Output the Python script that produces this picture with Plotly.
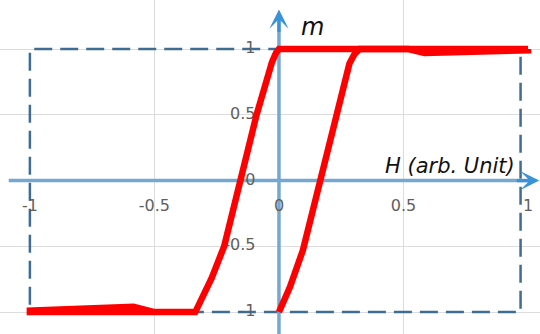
import plotly.graph_objects as go

# Hysteresis loop (H, m); None separates the two drawn pieces
H_loop = [1.0, 0.5, 0.0, -0.012, -0.028, -0.09, -0.152, -0.22, -0.27, -0.316, -0.336,
          -0.5, -0.584, -1.0, -1.0, -0.584, -0.5, -0.34, None,
          0.0, 0.044, 0.096, 0.164, 0.228, 0.255, 0.283, 0.303, 0.324,
          0.52, 0.584, 1.0, 1.0]
m_loop = [1.0, 1.0, 1.0, 0.97, 0.9, 0.5, 0.0, -0.5, -0.74, -0.93, -1.0,
          -1.0, -1.0, -1.0, -0.99, -0.96, -1.0, -1.0, None,
          -1.0, -0.81, -0.53, 0.0, 0.5, 0.72, 0.89, 0.96, 1.0,
          1.0, 0.97, 0.99, 1.0]

x_tick_vals = [-1, -0.5, 0, 0.5, 1]
x_tick_text = ["-1", "-0.5", "0", "0.5", "1"]
y_tick_vals = [1, 0.5, 0, -0.5, -1]
y_tick_text = ["1", "0.5", "0", "-0.5", "-1"]

XR = [-1.12, 1.048]
YR = [-1.167, 1.373]
AX_COL = "#76a7d0"
HEAD_COL = "#3a93d6"
TICK_FONT = dict(family="DejaVu Sans", size=16, color="#5f5f5f")

fig = go.Figure()

# tick labels (drawn below the curve)
fig.add_trace(go.Scatter(
    x=x_tick_vals, y=[-0.2] * len(x_tick_vals), text=x_tick_text,
    mode="text", textposition="middle center", textfont=TICK_FONT,
    hoverinfo="skip", showlegend=False))
fig.add_trace(go.Scatter(
    x=[-0.094] * len(y_tick_vals), y=y_tick_vals, text=y_tick_text,
    mode="text", textposition="middle left", textfont=TICK_FONT,
    hoverinfo="skip", showlegend=False))

# the loop
fig.add_trace(go.Scatter(
    x=H_loop, y=m_loop, mode="lines", connectgaps=False,
    line=dict(color="#ff0000", width=6.5),
    hoverinfo="skip", showlegend=False))

shapes = [
    # dashed frame
    dict(type="rect", x0=-1, x1=0.97, y0=-1, y1=1, xref="x", yref="y",
         line=dict(color="#3f6d92", width=2.5, dash="18px,8px"), layer="between"),
    # axis shafts
    dict(type="line", x0=-1.085, x1=1.0, y0=0, y1=0, xref="x", yref="y",
         line=dict(color=AX_COL, width=3.5), layer="between"),
    dict(type="line", x0=0, x1=0, y0=YR[0], y1=1.22, xref="x", yref="y",
         line=dict(color=AX_COL, width=3.5), layer="between"),
]

annotations = [
    dict(x=1.045, y=0, xref="x", yref="y", ax=-24, ay=0, showarrow=True,
         arrowhead=3, arrowsize=1.0, arrowwidth=3.2, arrowcolor=HEAD_COL, text=""),
    dict(x=0, y=1.30, xref="x", yref="y", ax=0, ay=24, showarrow=True,
         arrowhead=3, arrowsize=1.0, arrowwidth=3.2, arrowcolor=HEAD_COL, text=""),
    dict(x=0.133, y=1.17, xref="x", yref="y", text="<i>m</i>", showarrow=False,
         font=dict(family="DejaVu Sans", size=24, color="#111111")),
    dict(x=0.955, y=0.11, xref="x", yref="y", text="<i>H (arb. Unit)</i>",
         showarrow=False, xanchor="right",
         font=dict(family="DejaVu Sans", size=21, color="#111111")),
]

fig.update_layout(
    width=540, height=334,
    margin=dict(l=0, r=0, t=0, b=0),
    paper_bgcolor="white", plot_bgcolor="white",
    showlegend=False,
    shapes=shapes, annotations=annotations,
    xaxis=dict(range=XR, tickvals=[-0.5, 0.5], showticklabels=False,
               showgrid=True, gridcolor="#dcdcdc", gridwidth=1,
               zeroline=False, showline=False, fixedrange=True),
    yaxis=dict(range=YR, tickvals=[-1, -0.5, 0.5, 1], showticklabels=False,
               showgrid=True, gridcolor="#dcdcdc", gridwidth=1,
               zeroline=False, showline=False, fixedrange=True),
)

fig.write_html("out.html", config={"displayModeBar": False},
               post_script="document.body.style.margin='0';document.body.style.overflow='hidden';")
